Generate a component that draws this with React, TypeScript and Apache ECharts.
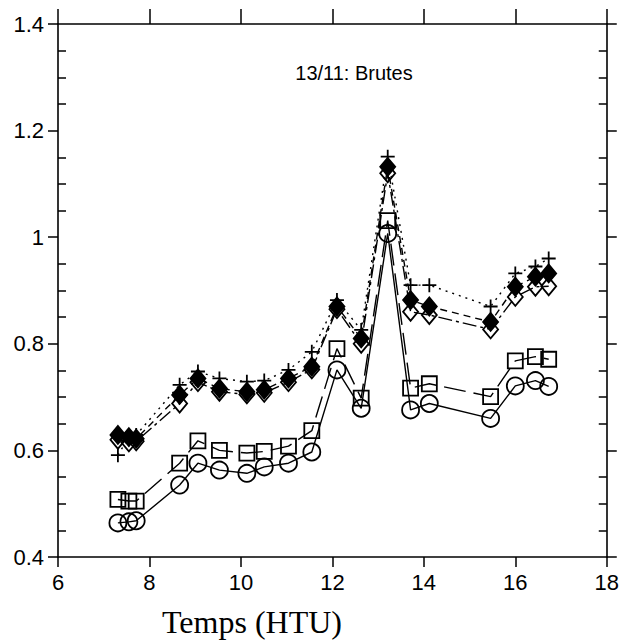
import React, { useEffect, useRef } from "react";
import * as echarts from "echarts";

// Time (HTU) of each measurement
const times = [7.31, 7.55, 7.71, 8.66, 9.06, 9.53, 10.13, 10.51, 11.04, 11.55, 12.1, 12.63, 13.21, 13.71, 14.12, 15.46, 16.0, 16.44, 16.73];

// Series values
const plusValues = [0.591, 0.625, 0.629, 0.723, 0.748, 0.735, 0.729, 0.731, 0.751, 0.785, 0.882, 0.826, 1.151, 0.91, 0.91, 0.87, 0.932, 0.945, 0.96];
const filledDiamondValues = [0.629, 0.625, 0.622, 0.704, 0.735, 0.716, 0.71, 0.714, 0.735, 0.757, 0.87, 0.81, 1.132, 0.882, 0.87, 0.841, 0.907, 0.926, 0.932];
const openDiamondValues = [0.62, 0.615, 0.617, 0.688, 0.728, 0.71, 0.705, 0.708, 0.728, 0.752, 0.865, 0.8, 1.12, 0.86, 0.854, 0.827, 0.888, 0.907, 0.908];
const squareValues = [0.508, 0.505, 0.505, 0.576, 0.618, 0.6, 0.595, 0.598, 0.608, 0.637, 0.791, 0.698, 1.031, 0.717, 0.725, 0.701, 0.768, 0.776, 0.771];
const circleValues = [0.464, 0.466, 0.468, 0.535, 0.576, 0.563, 0.557, 0.569, 0.576, 0.597, 0.751, 0.679, 1.007, 0.676, 0.688, 0.66, 0.721, 0.731, 0.72];

// Axis settings
const xMin = 6;
const xMax = 18;
const xStep = 2;
const yMin = 0.4;
const yMax = 1.4;
const yStep = 0.2;

const titleText = "13/11: Brutes";
const xAxisTitle = "Temps (HTU)";

const BLACK = "#000";
const SANS = '"Liberation Sans", Arial, sans-serif';

export default function App() {
  const ref = useRef<HTMLDivElement>(null);

  useEffect(() => {
    if (!ref.current) return;
    const chart = echarts.init(ref.current, null, { renderer: "svg" });

    const pair = (vals: number[]) => times.map((t, i) => [t, vals[i]]);

    const mkSeries = (
      name: string,
      vals: number[],
      symbol: string,
      size: number | number[],
      filled: boolean,
      lineType: any,
      z: number
    ) => ({
      name,
      type: "line",
      data: pair(vals),
      symbol,
      symbolSize: size,
      showSymbol: true,
      z,
      itemStyle: {
        color: filled ? BLACK : "rgba(0,0,0,0)",
        borderColor: BLACK,
        borderWidth: 1.8,
      },
      lineStyle: { color: BLACK, width: 1.4, type: lineType },
      emphasis: { disabled: true },
      silent: true,
    });

    const axisLine = { show: true, onZero: false, lineStyle: { color: BLACK, width: 1.6 } };
    const tickStyle = { color: BLACK, width: 1.5 };

    const yBase = { type: "value", min: yMin, max: yMax, interval: yStep, splitLine: { show: false } };
    const xBase = { type: "value", min: xMin, max: xMax, interval: xStep, splitLine: { show: false } };

    chart.setOption({
      animation: false,
      backgroundColor: "#fff",
      grid: { left: 58, right: 12, top: 24, bottom: 85, containLabel: false },
      xAxis: [
        {
          ...xBase,
          position: "bottom",
          axisLine,
          axisTick: { show: true, inside: false, length: 10, lineStyle: tickStyle },
          axisLabel: { color: BLACK, fontSize: 22, fontFamily: SANS, margin: 14 },
        },
        {
          ...xBase,
          position: "top",
          axisLine,
          axisTick: { show: true, inside: false, length: 15, lineStyle: tickStyle },
          axisLabel: { show: false },
        },
      ],
      yAxis: [
        {
          ...yBase,
          position: "left",
          axisLine,
          axisTick: { show: true, inside: false, length: 10, lineStyle: tickStyle },
          axisLabel: { color: BLACK, fontSize: 22, fontFamily: SANS, margin: 14 },
        },
        {
          ...yBase,
          position: "left",
          axisLine: { show: false },
          axisTick: { show: false, inside: true },
          minorTick: { show: true, splitNumber: 4, length: 8, lineStyle: tickStyle },
          axisLabel: { show: false },
        },
        {
          ...yBase,
          position: "right",
          axisLine,
          axisTick: { show: true, inside: false, length: 10, lineStyle: tickStyle },
          axisLabel: { show: false },
        },
        {
          ...yBase,
          position: "right",
          axisLine: { show: false },
          axisTick: { show: false, inside: true },
          minorTick: { show: true, splitNumber: 4, length: 8, lineStyle: tickStyle },
          axisLabel: { show: false },
        },
      ],
      series: [
        mkSeries("plus", plusValues, "path://M5,0L5,10M0,5L10,5", 14, false, [2, 5], 2),
        mkSeries("filledDiamond", filledDiamondValues, "diamond", [15, 18], true, [7, 5], 4),
        mkSeries("openDiamond", openDiamondValues, "diamond", [15, 18], false, [14, 4, 3, 4], 3),
        mkSeries("square", squareValues, "rect", 15, false, [22, 8], 5),
        mkSeries("circle", circleValues, "circle", 17, false, "solid", 6),
      ],
      graphic: [
        {
          type: "text",
          x: 354,
          y: 73,
          style: {
            text: titleText,
            font: `20px ${SANS}`,
            fill: BLACK,
            textAlign: "center",
            textVerticalAlign: "middle",
          },
        },
        {
          type: "text",
          x: 252,
          y: 622,
          style: {
            text: xAxisTitle,
            font: '32px "Liberation Serif", "Times New Roman", serif',
            fill: BLACK,
            textAlign: "center",
            textVerticalAlign: "middle",
          },
        },
      ],
    });

    return () => chart.dispose();
  }, []);

  return (
    <div
      ref={ref}
      style={{ position: "fixed", left: 0, top: 0, width: 622, height: 642, background: "#fff" }}
    />
  );
}
